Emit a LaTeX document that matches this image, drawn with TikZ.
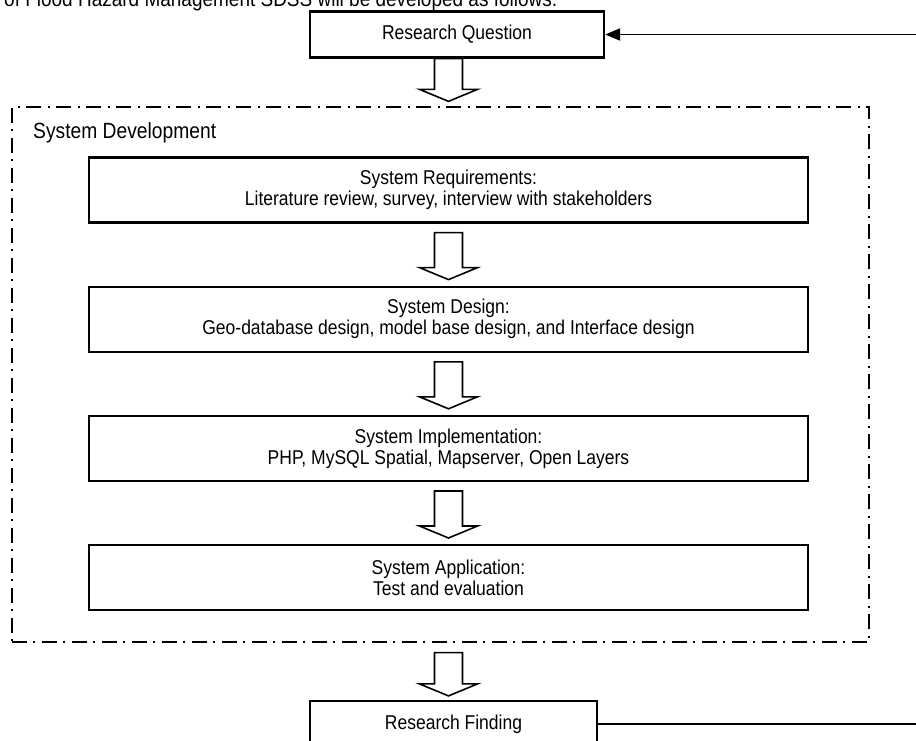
\documentclass[tikz,border=0pt]{standalone}
\usepackage{fontspec}
\setmainfont{Liberation Sans}[FakeStretch=0.875]
\usetikzlibrary{positioning,calc,arrows.meta}
\newcommand{\hollowdown}[2]{%
  \draw[hollow] ($(#1)+(-14,0)$) -- ($(#2)+(-14,-12)$) -- ($(#2)+(-29,-12)$) -- (#2)
    -- ($(#2)+(29,-12)$) -- ($(#2)+(14,-12)$) -- ($(#1)+(14,0)$) -- cycle;}

\begin{document}
\begin{tikzpicture}[x=1pt,y=-1pt,
  stagebox/.style={draw,line width=2.2pt,minimum width=719pt,minimum height=65pt,align=center,font=\fontsize{20}{21}\selectfont},
  endbox/.style={draw,line width=2.2pt,minimum height=46pt,font=\fontsize{20}{21}\selectfont},
  hollow/.style={line width=1.6pt,line join=miter},
  devframe/.style={draw,line width=1.3pt,dash pattern=on 15pt off 6pt on 2pt off 7pt,minimum width=857pt,minimum height=535pt},
  feedback/.style={line width=1.9pt}]
\clip (0,0) rectangle (916,740);
\node[anchor=base west,inner sep=0pt,font=\fontsize{21.7}{24}\selectfont] (intro) at (4,6) {of Flood Hazard Management SDSS will be developed as follows.};
\node[endbox,minimum width=294pt] (rq) at (457,34.5) {Research Question};
\node[devframe] (sysdev) at (440.5,374.5) {};
\node[anchor=west,inner sep=0pt,font=\fontsize{22}{24}\selectfont] (devlabel) at (33,133) {System Development};
% stages inside the frame
\node[stagebox] (req) at (448.5,190) {System Requirements:\\Literature review, survey, interview with stakeholders};
\node[stagebox,below=62pt of req] (des) {System Design:\\Geo-database design, model base design, and Interface design};
\node[stagebox,below=62pt of des] (imp) {System Implementation:\\PHP, MySQL Spatial, Mapserver, Open Layers};
\node[stagebox,below=62pt of imp] (app) {System Application:\\Test and evaluation};
\node[endbox,minimum width=287pt] (rf) at (453.5,724) {Research Finding};
% hollow arrows
\hollowdown{rq.south -| req.north}{$(sysdev.north -| req.north)+(0,-5)$}
\hollowdown{$(req.south)+(0,9)$}{$(des.north)+(0,-6)$}
\hollowdown{$(des.south)+(0,9)$}{$(imp.north)+(0,-6)$}
\hollowdown{$(imp.south)+(0,9)$}{$(app.north)+(0,-6)$}
\hollowdown{$(sysdev.south -| req.north)+(0,10)$}{$(rf.north -| req.north)+(0,-4)$}
% loop back
\coordinate (loop) at (935,0);
\draw[feedback,-{Triangle[length=15pt,width=12pt]}] (rf.east) -- (rf.east -| loop) |- (rq.east);
\end{tikzpicture}
\end{document}
